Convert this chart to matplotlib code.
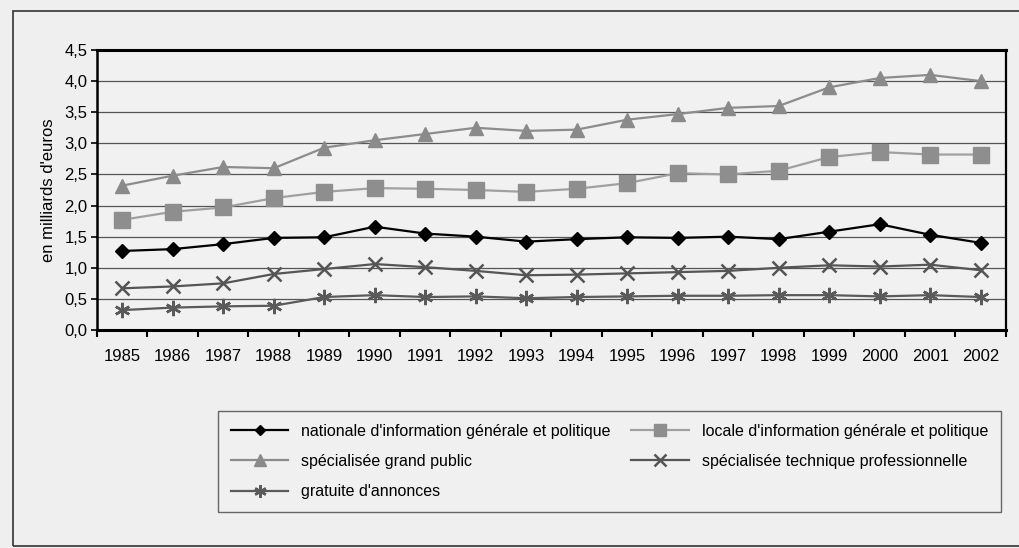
import matplotlib
matplotlib.use('Agg')
import matplotlib.pyplot as plt
from matplotlib.patches import Rectangle
from matplotlib.ticker import FuncFormatter

plt.rcParams['font.family'] = ['Liberation Sans Narrow', 'Liberation Sans', 'DejaVu Sans']

# --- Données (milliards d'euros) ---
annees = [1985, 1986, 1987, 1988, 1989, 1990, 1991, 1992, 1993,
          1994, 1995, 1996, 1997, 1998, 1999, 2000, 2001, 2002]

nationale = [1.27, 1.30, 1.38, 1.48, 1.49, 1.66, 1.55, 1.50, 1.42,
             1.46, 1.49, 1.48, 1.50, 1.46, 1.58, 1.70, 1.53, 1.40]
locale = [1.77, 1.90, 1.97, 2.12, 2.22, 2.28, 2.27, 2.25, 2.22,
          2.27, 2.36, 2.52, 2.50, 2.56, 2.78, 2.86, 2.82, 2.82]
grand_public = [2.32, 2.48, 2.62, 2.60, 2.93, 3.05, 3.15, 3.25, 3.20,
                3.22, 3.38, 3.47, 3.57, 3.60, 3.90, 4.05, 4.10, 4.00]
technique = [0.67, 0.70, 0.75, 0.90, 0.98, 1.06, 1.01, 0.95, 0.88,
             0.89, 0.91, 0.93, 0.95, 1.00, 1.04, 1.02, 1.05, 0.96]
gratuite = [0.32, 0.36, 0.38, 0.39, 0.53, 0.56, 0.53, 0.54, 0.51,
            0.53, 0.54, 0.55, 0.55, 0.56, 0.56, 0.54, 0.56, 0.53]

labels = ["nationale d'information générale et politique",
          "locale d'information générale et politique",
          "spécialisée grand public",
          "spécialisée technique professionnelle",
          "gratuite d'annonces"]

BG = '#efefef'
fig = plt.figure(figsize=(10.2, 5.48), dpi=100, facecolor=BG)
W, H = 1020, 548

# cadre extérieur
fig.patches.append(Rectangle((13 / W, 1 - 546 / H), (1030 - 13) / W, (546 - 11) / H,
                             transform=fig.transFigure, fill=False,
                             edgecolor='#333333', linewidth=1.2))

ax = fig.add_axes([97 / W, 1 - 330 / H, (1006 - 97) / W, (330 - 50) / H])
ax.set_facecolor('#f1f1f1')

x = list(range(len(annees)))
ax.plot(x, nationale, color='black', marker='D', markersize=7, linewidth=1.6,
        label=labels[0], zorder=5)
ax.plot(x, locale, color='#a0a0a0', marker='s', markersize=11,
        markerfacecolor='#8e8e8e', markeredgecolor='#8e8e8e', linewidth=1.6,
        label=labels[1], zorder=4)
ax.plot(x, grand_public, color='#8c8c8c', marker='^', markersize=10,
        markerfacecolor='#8a8a8a', markeredgecolor='#8a8a8a', linewidth=1.6,
        label=labels[2], zorder=4)
ax.plot(x, technique, color='#555555', marker='x', markersize=10,
        markeredgewidth=1.8, linewidth=1.6, label=labels[3], zorder=4)
ax.plot(x, gratuite, color='#5a5a5a', marker=(6, 2, 0), markersize=11,
        markeredgewidth=1.8, linewidth=1.6, label=labels[4], zorder=4)

ax.set_xlim(-0.5, len(annees) - 0.5)
ax.set_ylim(0, 4.5)
ax.set_yticks([0, 0.5, 1, 1.5, 2, 2.5, 3, 3.5, 4, 4.5])
ax.yaxis.set_major_formatter(FuncFormatter(lambda v, p: f'{v:.1f}'.replace('.', ',')))
ax.grid(axis='y', color='#555555', linewidth=0.9)
ax.set_axisbelow(True)

# ticks entre les catégories, labels au centre
ax.set_xticks([i - 0.5 for i in range(len(annees) + 1)])
ax.set_xticklabels([])
ax.set_xticks(x, minor=True)
ax.set_xticklabels([str(a) for a in annees], minor=True, fontsize=12)
ax.tick_params(axis='x', which='minor', length=0, pad=14)
ax.tick_params(axis='x', which='major', length=5, width=1.5, direction='out')
ax.tick_params(axis='y', length=4, width=1.2, labelsize=12, pad=3)

for side in ['top', 'bottom']:
    ax.spines[side].set_linewidth(2.2)
ax.spines['left'].set_linewidth(1.8)
ax.spines['right'].set_linewidth(1.6)
for s in ax.spines.values():
    s.set_color('black')

ax.set_ylabel("en milliards d'euros", fontsize=12, labelpad=6)

h, l = ax.get_legend_handles_labels()
ordre = [0, 2, 4, 1, 3]
leg = fig.legend([h[i] for i in ordre], [l[i] for i in ordre], ncol=2,
                 loc='upper left', bbox_to_anchor=(218 / W, 1 - 411 / H),
                 borderaxespad=0, fontsize=11.5, frameon=True, fancybox=False,
                 edgecolor='#444444', facecolor='#f1f1f1',
                 handlelength=3.6, columnspacing=1.3, labelspacing=0.95,
                 markerscale=0.8, borderpad=0.8)
leg.get_frame().set_linewidth(1.0)

fig.savefig('out.png', dpi=100, facecolor=BG)
